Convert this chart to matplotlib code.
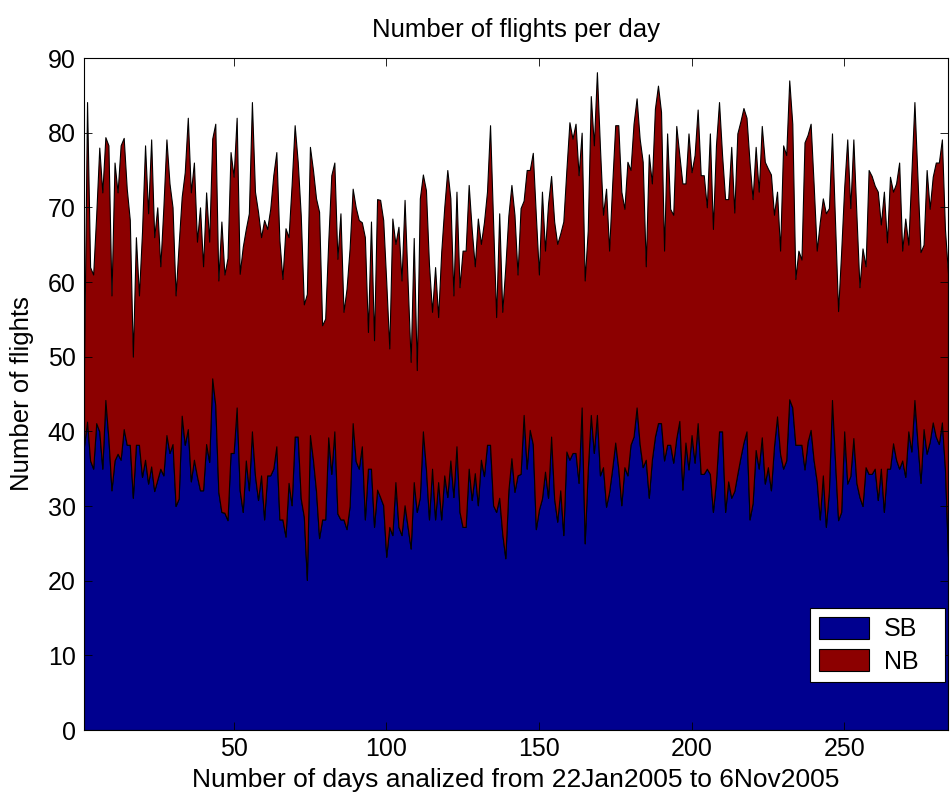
import numpy as np
import matplotlib
matplotlib.use('Agg')
import matplotlib.pyplot as plt

plt.rcParams['font.family'] = ['Liberation Sans', 'DejaVu Sans']

# Total flights per day (SB + NB), read from the top edge of the stacked area
total_flights = [
    48.2, 84.1, 62.0, 61.0, 69, 78, 72, 79.4, 78.3, 58.2, 76, 72, 78.3, 79.3, 72.5, 68.3,
    50, 66, 58.2, 66.7, 78.3, 69.2, 79.1, 66, 70, 62.1, 70, 79.1, 73.2, 70, 58.2, 65,
    71.4, 74.7, 82, 72, 76, 65.4, 70, 62.1, 72, 65.4, 79.2, 81.2, 60.2, 68.1, 61, 63.2,
    77.4, 74.1, 82.0, 61.1, 64.7, 67.1, 69.2, 84.1, 72.1, 69.4, 66.0, 68.3, 67.1, 69.8,
    74.3, 77.4, 65.6, 60.4, 67.2, 66.0, 73, 81.0, 76.1, 68.9, 57.0, 58.4, 78.1, 75.0,
    71.2, 69.4, 54.2, 55.1, 65.4, 74.3, 76.0, 63.1, 69.2, 56.0, 59.1, 64.5, 72.5, 70.0,
    68.3, 68.0, 66.0, 53.3, 68.1,
    52.2, 71.1, 71.0, 68.3, 60, 51.1, 68.5, 65.1, 67.4, 60.2, 71.0, 60, 49.3, 65.9, 48.2,
    71.2, 74.4, 72.3, 62.3, 56.0, 62.0, 55.3, 64.0, 70, 75.0, 71.2, 58.2, 72.1, 59.3,
    64.2, 64.2, 73.0, 67, 62.1, 68.5, 65.1, 68, 72.1, 81.0, 68, 55.3, 69.2, 56.0, 62,
    68.9, 73.0, 69, 61.0,
    69.9, 70.9, 75.0, 75.0, 77.3, 68.9, 61.0, 72.1, 64.2, 70.5, 74.2, 68.1, 65.1, 66.5,
    68.1, 75, 81.4, 79.2, 81.2, 74.3, 80.0, 60.2, 66.9, 84.9, 78.3, 88.1, 78, 69.0, 72.5,
    64.2, 73, 81.0, 81.0, 72.1, 69.8, 76.1, 75.0, 81.2, 84.6, 79.2, 76.1, 62.1, 77.1,
    73.2, 83.2, 86.3, 82.8,
    64.2, 79.9, 69.8, 69.0, 80.9, 77, 73.2, 73.2, 79.9, 74.7, 77.0, 83.1, 74.3, 74.3,
    70.0, 79.9, 67.1, 78.3, 84.1, 77, 71.1, 71.1, 78.1, 69.3, 79.9, 81.5, 83.3, 82.0, 76,
    71.1, 78.1, 72.1, 80.9, 76.1, 75.2, 74.4, 69.0, 72.1, 64.2, 78.3, 77.0, 87.0, 81.2,
    60.4, 64.2, 63.0, 78.7, 79.7,
    81.2, 73, 64.2, 68, 71.2, 69.2, 69.9, 79.9, 68, 56.1, 64, 72.7, 79.1, 69.9, 79.1, 69,
    59.3, 64.5, 62.1, 75.0, 74.2, 72.9, 72.1, 67.7, 72.1, 65.3, 74.1, 72.1, 73.2, 76.0,
    64.2, 68.5, 65.0, 74.5, 84.1, 74, 64.0, 65.0, 75.0, 69.8, 74.1, 76.0, 76.0, 79.1,
    67.1, 61.1,
]

# Southbound flights per day (lower, blue area)
sb_flights = [
    38, 41.3, 36.1, 35.0, 41.1, 40.0, 35.0, 44.2, 39, 32.1, 36.1, 37.0, 36.2, 40.3, 38.2,
    38.2, 31.1, 38.2, 38.2, 33.9, 36.2, 33.0, 35.3, 32.0, 33.5, 35.0, 34.1, 39.5, 37.1,
    38.3, 30.0, 31.0, 42.1, 38.2, 40.3, 33.3, 36.2, 34, 32.1, 32.1, 38.3, 35.9, 47.1,
    43.5, 31.9, 29.2, 29.1, 28.1,
    37.1, 37.1, 43.2, 32.1, 29.2, 36.1, 32.1, 40.0, 34.1, 30.8, 34.1, 28.2, 34.1, 34.1,
    35.0, 38.0, 28.2, 28.2, 25.9, 33.1, 30.1, 39.3, 39.3, 31.0, 28.6, 20.1, 39.5, 36.2,
    32, 25.7, 28.2, 28.2, 39.2, 34.3, 40.0, 29.0, 28.2, 28.2, 26.9, 30, 41.1, 36, 35.0,
    38.0, 28.2, 35.0, 35.0,
    27.2, 32.2, 31.2, 30.1, 23.2, 27.2, 26.1, 33.2, 27.2, 26.1, 30.1, 27.2, 24.3, 33.2,
    29.2, 31.2, 40.0, 35.0, 28.2, 35.0, 28.2, 33.2, 28.2, 34.1, 31.2, 36.1, 31.2, 38.0,
    29.2, 27.2, 27.2, 35.0, 30.8, 34.4, 30.1, 36.2, 34.0, 38.2, 38.2, 30.1, 29.2, 31.1,
    26.3, 23.0, 32.1, 36.4, 31.9, 34.1,
    34.3, 42.2, 35.0, 40.2, 38.3, 26.9, 29.5, 31, 34.6, 31.1, 39.3, 31.0, 27.9, 32.1,
    26.1, 37.3, 36.2, 37.1, 37.1, 33.1, 43.2, 25.0, 34.8, 42.2, 37.1, 42.2, 34.1, 35.2,
    29.9, 31.9, 35, 38.5, 35.0, 30.1, 35.2, 34.1, 38.2, 39.3, 43.2, 38.3, 35.2, 36.2,
    31.1, 36.2, 39.3, 41.1, 41.1,
    36.1, 38.2, 38.2, 35.8, 39.1, 41.4, 32.2, 38.5, 34.9, 39.5, 35.8, 41.1, 34.3, 34.3,
    35.0, 34.3, 29.2, 33.3, 40.0, 40.0, 29.2, 33.3, 31.1, 32, 34.3, 36.5, 38.5, 40.0,
    28.2, 30.4, 37.5, 35.0, 39.2, 33.0, 35.2, 32.1, 38, 42.0, 37, 35.0, 36.1, 44.3, 43.2,
    38.2, 38.2, 38.2, 34.9, 38.6,
    40.2, 36.1, 33.3, 28.2, 34.1, 27.2, 32.1, 44.2, 36, 28.1, 29.2, 40.0, 33.0, 34.0,
    39.1, 33.1, 31.2, 30.0, 35.2, 34.3, 34.3, 35.0, 30.8, 35.0, 29.2, 35.0, 35.0, 38.4,
    36.2, 35.0, 36.1, 33.9, 40.0, 37.3, 44.2, 38.5, 33.1, 40.3, 37.0, 38.6, 41.2, 39.3,
    38.3, 41.2, 35.0, 23.2,
]

series_labels = ['SB', 'NB']
x_ticks = [50, 100, 150, 200, 250]
y_ticks = [0, 10, 20, 30, 40, 50, 60, 70, 80, 90]

title_text = 'Number of flights per day'
xlabel_text = 'Number of days analized from 22Jan2005 to 6Nov2005'
ylabel_text = 'Number of flights'

total = np.array(total_flights, dtype=float)
sb = np.array(sb_flights, dtype=float)
nb = total - sb
days = np.arange(1, len(total) + 1)

W, H = 951, 796
fig = plt.figure(figsize=(W / 100, H / 100), dpi=100)
ax = fig.add_axes([84 / W, (H - 730) / H, 864 / W, 672 / H])

ax.stackplot(days, sb, nb, labels=series_labels,
             colors=['#00008F', '#8C0000'], edgecolor='black', linewidth=0.8)

ax.set_xlim(1, len(days))
ax.set_ylim(0, 90)
ax.set_xticks(x_ticks)
ax.set_yticks(y_ticks)
ax.tick_params(direction='in', length=6, width=0.6, top=True, right=True,
               labelsize=18)
ax.tick_params(axis='y', pad=6)
ax.tick_params(axis='x', pad=5)
for s in ax.spines.values():
    s.set_linewidth(0.8)

leg = ax.legend(loc='lower left', bbox_to_anchor=(0.840, 0.071, 0.1565, 0.112),
                mode='expand', borderaxespad=0,
                fancybox=False, edgecolor='black', framealpha=1, fontsize=18,
                handlelength=2.0, handleheight=1.0, handletextpad=0.6,
                labelspacing=0.3, borderpad=0.35)
leg.get_frame().set_linewidth(0.8)

fig.text(516 / W, 1 - 30 / H, title_text, ha='center', va='center', fontsize=18.5)
fig.text(22 / W, 1 - 394 / H, ylabel_text, ha='center', va='center',
         rotation=90, fontsize=18.5)
fig.text(516 / W, 1 - 780 / H, xlabel_text, ha='center', va='center', fontsize=19)

fig.savefig('out.png', dpi=100)
